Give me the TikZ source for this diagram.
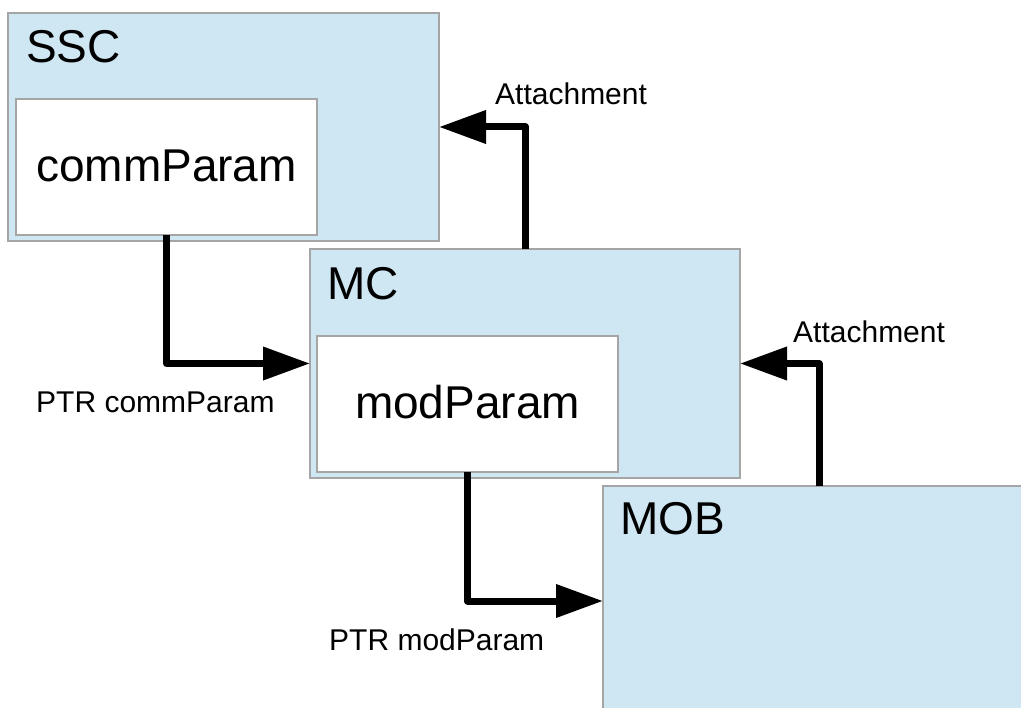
\documentclass[tikz,border=0pt]{standalone}
\usepackage{fontspec}
\setmainfont{Liberation Sans}
\usetikzlibrary{arrows.meta}
\definecolor{boxfill}{RGB}{207,230,243}
\definecolor{boxline}{RGB}{165,165,165}
\begin{document}
\begin{tikzpicture}[x=1pt,y=-1pt,
  outerbox/.style={draw=boxline, fill=boxfill, line width=1.3pt, inner sep=0pt, outer sep=0pt, anchor=north west},
  innerbox/.style={draw=boxline, fill=white, line width=1.3pt, inner sep=0pt, outer sep=0pt, anchor=north west},
  bigtext/.style={inner sep=0pt, font=\fontsize{46}{46}\selectfont},
  lbl/.style={inner sep=0pt, anchor=base west, font=\fontsize{30}{30}\selectfont},
  arr/.style={line width=7pt, line join=round, -{Triangle[length=47pt,width=32pt]}}]
\clip (0,0) rectangle (1021,708);
\fill[white] (0,0) rectangle (1021,708);
% boxes
\node[outerbox, minimum width=431pt, minimum height=228pt] (SSC) at (8,13) {};
\node[innerbox, minimum width=301pt, minimum height=136pt] (commP) at (16,99) {};
\node[outerbox, minimum width=430pt, minimum height=229pt] (MC) at (310,249) {};
\node[innerbox, minimum width=301pt, minimum height=136pt] (modP) at (317,336) {};
\node[outerbox, minimum width=440pt, minimum height=230pt] (MOB) at (603,486) {};
% titles
\node[bigtext, anchor=base west] (sscT) at (26,63) {SSC};
\node[bigtext, anchor=base west] (mcT) at (327,300) {MC};
\node[bigtext, anchor=base west] (mobT) at (620,535) {MOB};
\node[bigtext, anchor=base] (commT) at (166.5,182) {commParam};
\node[bigtext, anchor=base] (modT) at (467.5,419) {modParam};
% connectors
\draw[arr] (commP.south) |- (MC.west);
\draw[arr] (modP.south) |- (MOB.west);
\draw[arr] ([xshift=215.5pt]MC.north west) |- (SSC.east);
\draw[arr] ([xshift=216pt]MOB.north west) |- (MC.east);
% labels
\node[lbl] (att1) at (495,105) {Attachment};
\node[lbl] (att2) at (793,343) {Attachment};
\node[lbl] (ptr1) at (36,413) {PTR commParam};
\node[lbl] (ptr2) at (329,650) {PTR modParam};
\end{tikzpicture}
\end{document}
